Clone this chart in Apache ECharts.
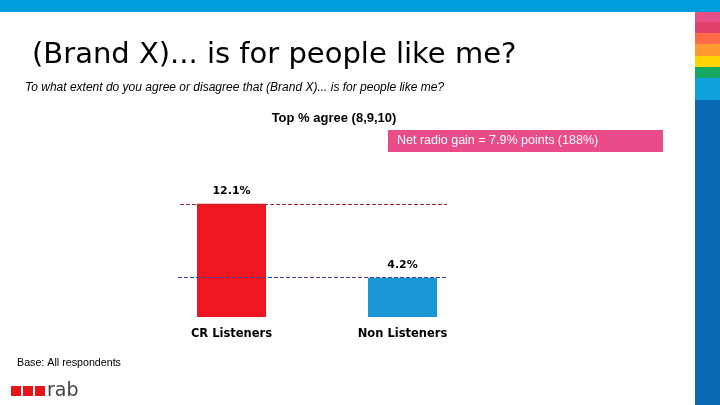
<!DOCTYPE html>
<html>
<head>
<meta charset="utf-8">
<script src="https://cdn.jsdelivr.net/npm/echarts@6/dist/echarts.min.js"></script>
<style>
html,body{margin:0;padding:0;background:#fff;}
#chart{width:720px;height:405px;}
</style>
</head>
<body>
<div id="chart"></div>
<script>
const categories = ['CR Listeners', 'Non Listeners'];
const values = [12.1, 4.2];
const barColors = ['#ef1620', '#1a96d3'];
const refLineColors = ['#a82838', '#40409c'];
const titleText = '(Brand X)... is for people like me?';
const subtitleText = 'To what extent do you agree or disagree that (Brand X)... is for people like me?';
const chartTitle = 'Top % agree (8,9,10)';
const gainText = 'Net radio gain = 7.9% points (188%)';
const baseText = 'Base: All respondents';

const stripes = [
  ['#e8508c', 12, 22],
  ['#e0406c', 22, 33],
  ['#ff6a48', 33, 44],
  ['#ff9a30', 44, 56],
  ['#ffd500', 56, 67],
  ['#14a860', 67, 78],
  ['#10a0dc', 78, 100],
  ['#0a68b0', 100, 405]
];

const chart = echarts.init(document.getElementById('chart'), null, {renderer: 'canvas'});

const graphics = [
  {type: 'rect', shape: {x: 0, y: 0, width: 720, height: 12}, style: {fill: '#009fdb'}},
  ...stripes.map(s => ({type: 'rect', shape: {x: 695, y: s[1], width: 25, height: s[2] - s[1]}, style: {fill: s[0]}})),
  {type: 'text', x: 32, y: 55, style: {text: titleText, font: '29px "DejaVu Sans"', fill: '#000', verticalAlign: 'middle'}},
  {type: 'text', x: 25, y: 88, style: {text: subtitleText, font: 'italic 12px "Liberation Sans"', fill: '#000', verticalAlign: 'middle'}},
  {type: 'text', x: 334, y: 118, style: {text: chartTitle, font: 'bold 13px "Liberation Sans"', fill: '#000', align: 'center', verticalAlign: 'middle'}},
  {type: 'rect', shape: {x: 388, y: 130, width: 275, height: 22}, style: {fill: '#ea4c89'}},
  {type: 'text', x: 397, y: 141, style: {text: gainText, font: '12.5px "Liberation Sans"', fill: '#fff', verticalAlign: 'middle'}},
  {type: 'text', x: 17, y: 363, style: {text: baseText, font: '10.7px "Liberation Sans"', fill: '#000', verticalAlign: 'middle'}},
  {type: 'rect', shape: {x: 11, y: 386, width: 10, height: 10}, style: {fill: '#e8141c'}},
  {type: 'rect', shape: {x: 23, y: 386, width: 10, height: 10}, style: {fill: '#e8141c'}},
  {type: 'rect', shape: {x: 35, y: 386, width: 10, height: 10}, style: {fill: '#e8141c'}},
  {type: 'text', x: 47, y: 391, style: {text: 'rab', font: '19px "DejaVu Sans"', fill: '#444', verticalAlign: 'middle'}}
];

chart.setOption({
  animation: false,
  graphic: graphics,
  grid: {left: 146, width: 342, top: 186, bottom: 88},
  xAxis: {
    type: 'category',
    data: categories,
    axisLine: {show: false},
    axisTick: {show: false},
    axisLabel: {color: '#000', fontFamily: 'DejaVu Sans', fontWeight: 'bold', fontSize: 11.5, margin: 11}
  },
  yAxis: {type: 'value', min: 0, max: 14, show: false},
  series: [{
    type: 'bar',
    barWidth: 69,
    data: values.map((v, i) => ({value: v, itemStyle: {color: barColors[i]}})),
    label: {
      show: true, position: 'top', distance: 7,
      formatter: p => p.value.toFixed(1) + '%',
      color: '#000', fontFamily: 'DejaVu Sans', fontWeight: 'bold', fontSize: 11
    },
    markLine: {
      silent: true,
      symbol: ['none', 'none'],
      label: {show: false},
      data: values.map((v, i) => [
        {yAxis: v, x: i === 0 ? 180 : 178, lineStyle: {color: refLineColors[i], type: [4, 2], width: 1}},
        {yAxis: v, x: 447, lineStyle: {color: refLineColors[i], type: [4, 2], width: 1}}
      ])
    }
  }]
});
</script>
</body>
</html>
